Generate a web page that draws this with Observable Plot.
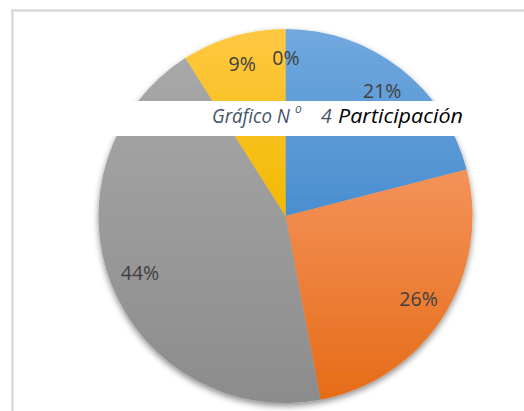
<!DOCTYPE html>
<html>
<head>
<meta charset="utf-8">
<script src="https://cdn.jsdelivr.net/npm/d3@7"></script>
<script src="https://cdn.jsdelivr.net/npm/@observablehq/plot@0.6"></script>
<style>
  html, body { margin: 0; padding: 0; background: #ffffff; }
  #chart svg { display: block; }
</style>
</head>
<body>
<div id="chart"></div>
<script>
// ---- Data ----
const categories = ["1", "2", "3", "4", "5"];
const values = [21, 26, 44, 9, 0];
const labels = ["21%", "26%", "44%", "9%", "0%"];
const colorsTop = ["#71a8de", "#f4925a", "#a8a8a8", "#ffc843", "#5a85d0"];
const colorsBottom = ["#4a8ed0", "#e56c17", "#8c8c8c", "#f2b900", "#3a64b5"];
const titleParts = ["Gráfico N", "o", "4", "Participación"];

// ---- Layout ----
const W = 524, H = 411;
const cx = 285.5, cy = 216, R = 187, labelR = 157;

const data = categories.map((c, i) => ({category: c, value: values[i], label: labels[i], i}));
const arcs = d3.pie().sort(null).value(d => d.value)(data);

const labelArc = d3.arc().innerRadius(labelR).outerRadius(labelR);
const labelData = arcs.map(a => {
  const [dx, dy] = labelArc.centroid(a);
  return {x: cx + dx, y: cy + dy, label: a.data.label};
});

function pieMark(index, scales) {
  const X = scales.x(cx), Y = scales.y(cy);
  const r = scales.x(cx + R) - X;
  const g = d3.create("svg:g");
  const defs = g.append("defs");
  const f = defs.append("filter").attr("id", "pieShadow")
    .attr("x", "-10%").attr("y", "-10%").attr("width", "120%").attr("height", "120%");
  f.append("feDropShadow").attr("dx", 0).attr("dy", 3).attr("stdDeviation", 3)
    .attr("flood-color", "#000").attr("flood-opacity", 0.45);
  arcs.forEach((a, i) => {
    const lg = defs.append("linearGradient").attr("id", "sliceGrad" + i)
      .attr("x1", 0).attr("y1", 0).attr("x2", 0).attr("y2", 1);
    lg.append("stop").attr("offset", "0%").attr("stop-color", colorsTop[i]);
    lg.append("stop").attr("offset", "100%").attr("stop-color", colorsBottom[i]);
  });
  const arc = d3.arc().innerRadius(0).outerRadius(r);
  g.append("g")
    .attr("transform", `translate(${X},${Y})`)
    .attr("filter", "url(#pieShadow)")
    .selectAll("path")
    .data(arcs)
    .join("path")
    .attr("d", arc)
    .attr("fill", (d, i) => `url(#sliceGrad${i})`);
  return g.node();
}

function titleMark(index, scales) {
  const g = d3.create("svg:g")
    .attr("font-family", "'Open Sans', sans-serif")
    .attr("font-style", "italic")
    .attr("text-anchor", "start");
  const base = scales.y(123);
  g.append("text").attr("x", scales.x(212)).attr("y", base)
    .attr("font-size", 19.5).attr("fill", "#44546a")
    .attr("textLength", 78).attr("lengthAdjust", "spacingAndGlyphs")
    .text(titleParts[0]);
  g.append("text").attr("x", scales.x(295)).attr("y", scales.y(113))
    .attr("font-size", 12).attr("fill", "#44546a")
    .text(titleParts[1]);
  g.append("text").attr("x", scales.x(321)).attr("y", base)
    .attr("font-size", 19.5).attr("fill", "#44546a")
    .text(titleParts[2]);
  g.append("text").attr("x", scales.x(338)).attr("y", base)
    .attr("font-size", 19.5).attr("fill", "#000000")
    .attr("textLength", 125).attr("lengthAdjust", "spacingAndGlyphs")
    .text(titleParts[3]);
  return g.node();
}

const band = [{x1: 104, x2: 478, y1: 101, y2: 136}];

const chart = Plot.plot({
  width: W,
  height: H,
  margin: 0,
  x: {domain: [0, W], range: [0, W], axis: null},
  y: {domain: [0, H], range: [0, H], axis: null},
  style: {background: "#ffffff", overflow: "visible"},
  marks: [
    Plot.ruleY([10], {x1: 11, x2: W, stroke: "#d9d9d9", strokeWidth: 2.5}),
    Plot.ruleX([12], {y1: 9, y2: H, stroke: "#d9d9d9", strokeWidth: 2.5}),
    pieMark,
    Plot.text(labelData, {
      x: "x", y: "y", text: "label", dy: -1,
      fill: "#404040", fontSize: 19.5, fontFamily: "'Open Sans', sans-serif"
    }),
    Plot.rect(band, {x1: "x1", x2: "x2", y1: "y1", y2: "y2", fill: "#ffffff"}),
    titleMark
  ]
});
document.getElementById("chart").appendChild(chart);
</script>
</body>
</html>
